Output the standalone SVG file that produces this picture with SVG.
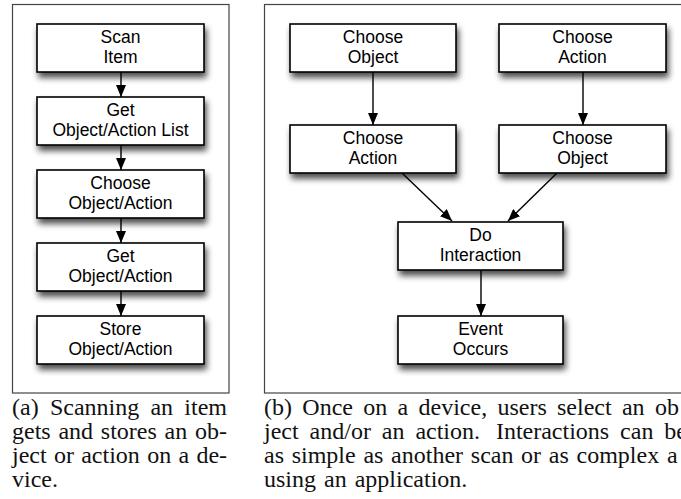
<svg xmlns="http://www.w3.org/2000/svg" width="681" height="499" viewBox="0 0 681 499">
  <style>
    .frame { fill: #fff; stroke: #444; stroke-width: 1.2; }
    .box { fill: #fff; stroke: #000; stroke-width: 1.6; filter: url(#shadow); }
    .lbl { font-family: "Liberation Sans", Arial, sans-serif; font-size: 17.5px; text-anchor: middle; fill: #000; }
    .edge { stroke: #000; stroke-width: 1.4; fill: none; marker-end: url(#arrow); }
    .cap { font-family: "Liberation Serif", "Times New Roman", serif; font-size: 24px; fill: #111; }
  </style>
  <defs>
    <filter id="shadow" x="-20%" y="-30%" width="140%" height="180%">
      <feGaussianBlur in="SourceAlpha" stdDeviation="3"/>
      <feOffset dx="2" dy="5" result="blur"/>
      <feComponentTransfer><feFuncA type="linear" slope="0.7"/></feComponentTransfer>
      <feMerge><feMergeNode/><feMergeNode in="SourceGraphic"/></feMerge>
    </filter>
    <marker id="arrow" viewBox="0 0 12 10" refX="12" refY="5" markerWidth="12" markerHeight="10" markerUnits="userSpaceOnUse" orient="auto">
      <path d="M0,0 L12,5 L0,10 Z" fill="#000"/>
    </marker>
  </defs>

  <rect width="681" height="499" fill="#fff"/>

  <!-- panel frames -->
  <rect class="frame" x="12.5" y="4.5" width="216.5" height="388.5"/>
  <rect class="frame" x="264.5" y="4.5" width="430" height="388.5"/>

  <!-- connectors -->
  <g id="connectors">
    <line class="edge" x1="121" y1="72" x2="121" y2="97"/>
    <line class="edge" x1="121" y1="145" x2="121" y2="170"/>
    <line class="edge" x1="121" y1="218" x2="121" y2="243"/>
    <line class="edge" x1="121" y1="291" x2="121" y2="316"/>
    <line class="edge" x1="373" y1="72" x2="373" y2="125"/>
    <line class="edge" x1="583" y1="72" x2="583" y2="125"/>
    <line class="edge" x1="402" y1="173" x2="452" y2="221"/>
    <line class="edge" x1="557" y1="173" x2="508" y2="221"/>
    <line class="edge" x1="481" y1="270" x2="481" y2="316"/>
  </g>

  <!-- left flow -->
  <g id="scan-item">
    <rect class="box" x="37" y="24" width="167" height="48"/>
    <text class="lbl" x="120.5" y="43">Scan</text>
    <text class="lbl" x="120.5" y="63">Item</text>
  </g>
  <g id="get-list">
    <rect class="box" x="37" y="97" width="167" height="48"/>
    <text class="lbl" x="120.5" y="116">Get</text>
    <text class="lbl" x="120.5" y="136">Object/Action List</text>
  </g>
  <g id="choose-object-action">
    <rect class="box" x="37" y="170" width="167" height="48"/>
    <text class="lbl" x="120.5" y="189">Choose</text>
    <text class="lbl" x="120.5" y="209">Object/Action</text>
  </g>
  <g id="get-object-action">
    <rect class="box" x="37" y="243" width="167" height="48"/>
    <text class="lbl" x="120.5" y="262">Get</text>
    <text class="lbl" x="120.5" y="282">Object/Action</text>
  </g>
  <g id="store-object-action">
    <rect class="box" x="37" y="316" width="167" height="48"/>
    <text class="lbl" x="120.5" y="335">Store</text>
    <text class="lbl" x="120.5" y="355">Object/Action</text>
  </g>

  <!-- right flow -->
  <g id="choose-object-1">
    <rect class="box" x="290" y="24" width="166" height="48"/>
    <text class="lbl" x="373" y="43">Choose</text>
    <text class="lbl" x="373" y="63">Object</text>
  </g>
  <g id="choose-action-1">
    <rect class="box" x="499" y="24" width="167" height="48"/>
    <text class="lbl" x="582.5" y="43">Choose</text>
    <text class="lbl" x="582.5" y="63">Action</text>
  </g>
  <g id="choose-action-2">
    <rect class="box" x="290" y="125" width="166" height="48"/>
    <text class="lbl" x="373" y="144">Choose</text>
    <text class="lbl" x="373" y="164">Action</text>
  </g>
  <g id="choose-object-2">
    <rect class="box" x="499" y="125" width="167" height="48"/>
    <text class="lbl" x="582.5" y="144">Choose</text>
    <text class="lbl" x="582.5" y="164">Object</text>
  </g>
  <g id="do-interaction">
    <rect class="box" x="398" y="222" width="165" height="48"/>
    <text class="lbl" x="480.5" y="241">Do</text>
    <text class="lbl" x="480.5" y="261">Interaction</text>
  </g>
  <g id="event-occurs">
    <rect class="box" x="398" y="316" width="165" height="48"/>
    <text class="lbl" x="480.5" y="335">Event</text>
    <text class="lbl" x="480.5" y="355">Occurs</text>
  </g>

  <!-- captions (justified word by word) -->
  <text class="cap" y="415"><tspan x="12">(a)</tspan><tspan x="49.9">Scanning</tspan><tspan x="150.4">an</tspan><tspan x="184.3">item</tspan></text>
  <text class="cap" y="439"><tspan x="12">gets</tspan><tspan x="58.4">and</tspan><tspan x="100.8">stores</tspan><tspan x="164.6">an</tspan><tspan x="195">ob-</tspan></text>
  <text class="cap" y="463"><tspan x="12">ject</tspan><tspan x="53.9">or</tspan><tspan x="81.2">action</tspan><tspan x="147.2">on</tspan><tspan x="178.5">a</tspan><tspan x="196.4">de-</tspan></text>
  <text class="cap" y="487"><tspan x="12">vice.</tspan></text>

  <text class="cap" y="415"><tspan x="264">(b)</tspan><tspan x="302.3">Once</tspan><tspan x="363.2">on</tspan><tspan x="397.5">a</tspan><tspan x="418.5">device,</tspan><tspan x="497.4">users</tspan><tspan x="557">select</tspan><tspan x="621.9">an</tspan><tspan x="654.9">ob</tspan></text>
  <text class="cap" y="439"><tspan x="264">ject</tspan><tspan x="309.6">and/or</tspan><tspan x="381.8">an</tspan><tspan x="415.4">action.</tspan><tspan x="495.9">Interactions</tspan><tspan x="620.1">can</tspan><tspan x="664.3">be</tspan></text>
  <text class="cap" y="463"><tspan x="264">as</tspan><tspan x="291.7">simple</tspan><tspan x="363.4">as</tspan><tspan x="391.1">another</tspan><tspan x="470.8">scan</tspan><tspan x="521.1">or</tspan><tspan x="548.8">as</tspan><tspan x="576.5">complex</tspan><tspan x="666.9">a</tspan></text>
  <text class="cap" y="487"><tspan x="264">using</tspan><tspan x="324">an</tspan><tspan x="354.7">application.</tspan></text>
</svg>
